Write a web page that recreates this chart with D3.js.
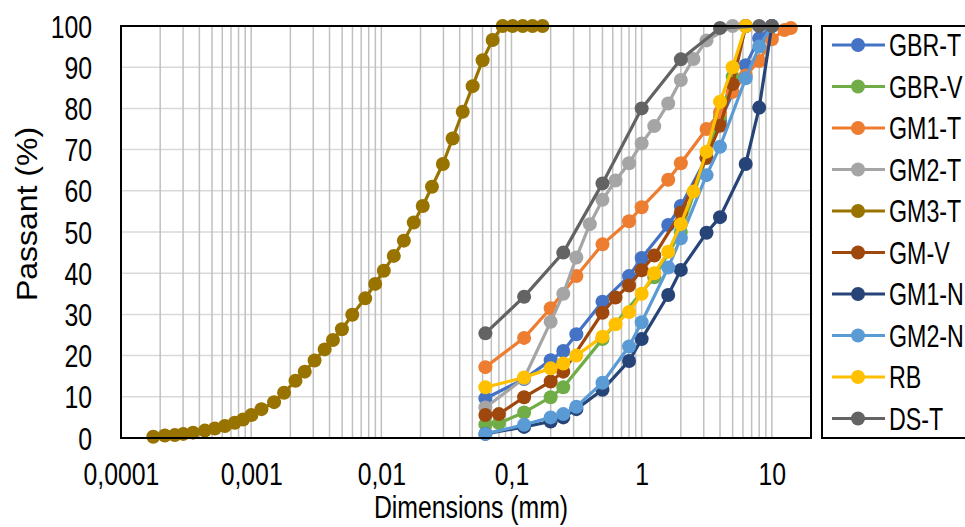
<!DOCTYPE html>
<html><head><meta charset="utf-8">
<script src="https://cdn.jsdelivr.net/npm/d3@7"></script>
<style>html,body{margin:0;padding:0;background:#fff;}svg{display:block;}</style>
</head><body>
<svg id="c" width="965" height="527"></svg>
<script>
// ---------- DATA ----------
const seriesNames = ["GBR-T","GBR-V","GM1-T","GM2-T","GM3-T","GM-V","GM1-N","GM2-N","RB","DS-T"];
const seriesColors = ["#4472C4","#70AD47","#ED7D31","#A5A5A5","#997300","#9E480E","#264478","#5B9BD5","#FFC000","#636363"];

const gbrT_x = [0.063,0.125,0.2,0.25,0.315,0.5,0.8,1,1.6,2,3.15,4,6.3,8,10];
const gbrT_y = [9.6,14.3,18.9,21.1,25.2,33.1,39.3,43.7,51.7,56.3,68,77,90.5,97,100];

const gbrV_x = [0.063,0.08,0.125,0.2,0.25,0.5,1.25,2,4,5,6.3];
const gbrV_y = [3.3,3.6,6.2,9.9,12.3,24,39,50,78,87.7,100];

const gm1T_x = [0.063,0.125,0.2,0.315,0.5,0.8,1,1.6,2,3.15,4,5,6.3,8,10,12.5,14];
const gm1T_y = [17.2,24.3,31.5,39.3,47.0,52.6,56.0,62.7,66.7,75.0,79,84,88,91.5,96.8,99,99.5];

const gm2T_x = [0.063,0.125,0.2,0.25,0.315,0.4,0.5,0.63,0.8,1,1.25,1.6,2,2.5,3.15,5];
const gm2T_y = [7.4,14.5,28.2,35,43.8,51.9,57.8,62.5,66.7,71.5,75.7,81.2,86.9,92,96.5,100];

const gm3T_x = [0.000177,0.000217,0.000259,0.000301,0.000358,0.000441,0.000526,0.000628,0.000748,0.000867,
  0.001005,0.0012,0.0015,0.00179,0.00219,0.00258,0.00307,0.00367,0.00425,0.00498,
  0.00598,0.00752,0.00897,0.01045,0.01247,0.0149,0.01775,0.0208,0.0245,0.0297,
  0.0353,0.0422,0.0503,0.06,0.0716,0.0855,0.102,0.122,0.145,0.173];
const gm3T_y = [0.3,0.6,0.7,1.0,1.3,1.8,2.3,2.9,3.7,4.5,
  5.6,7.0,8.7,11.0,13.9,16.1,18.8,21.5,23.8,26.4,
  29.9,33.9,37.4,40.6,44.2,47.9,52.3,56.3,61.0,66.5,
  72.7,79.2,85.4,91.7,96.6,100,100,100,100,100];

const gmV_x = [0.063,0.08,0.125,0.2,0.25,0.5,0.63,0.8,1,1.25,2,3.15,4,5,6.3];
const gmV_y = [5.6,5.8,9.9,13.7,16.1,30.4,34.1,37.0,40.7,44.3,54.7,68,75.8,85.9,100];

const gm1N_x = [0.063,0.125,0.2,0.25,0.315,0.5,0.8,1,1.6,2,3.15,4,6.3,8,10];
const gm1N_y = [1.0,2.7,4.0,5.0,7.0,11.7,18.7,24.0,34.7,40.8,49.8,53.6,66.5,80.2,100];

const gm2N_x = [0.063,0.125,0.2,0.25,0.315,0.5,0.8,1,1.6,2,3.15,4,6.3,8,10];
const gm2N_y = [1.0,3.2,5.0,5.8,7.6,13.4,22.2,28.1,41.4,48.5,63.8,70.7,87.3,95,100];

const rb_x = [0.063,0.125,0.2,0.25,0.315,0.5,0.63,0.8,1,1.25,1.6,2,2.5,3.15,4,5,6.3];
const rb_y = [12.3,14.7,16.9,18.1,20.0,24.6,27.6,30.6,35.0,40,45.2,51.9,59.8,69.5,81.6,90,100];

const dsT_x = [0.063,0.125,0.25,0.5,1,2,4,8,10];
const dsT_y = [25.4,34.3,45.0,61.8,80.0,91.9,99.5,100,100];

const seriesX = [gbrT_x,gbrV_x,gm1T_x,gm2T_x,gm3T_x,gmV_x,gm1N_x,gm2N_x,rb_x,dsT_x];
const seriesY = [gbrT_y,gbrV_y,gm1T_y,gm2T_y,gm3T_y,gmV_y,gm1N_y,gm2N_y,rb_y,dsT_y];

const xTicks = [0.0001,0.001,0.01,0.1,1,10];
const xTickLabels = ["0,0001","0,001","0,01","0,1","1","10"];
const yTicks = [0,10,20,30,40,50,60,70,80,90,100];
const xTitle = "Dimensions (mm)";
const yTitle = "Passant (%)";

// ---------- LAYOUT ----------
const L = 121, R = 811, T = 26, B = 438;
const SX = 0.8;
const FONT = "'Liberation Sans', Arial, sans-serif";
const FS = 31;

const svg = d3.select("#c");
const x = d3.scaleLog().domain([0.0001, 20]).range([L, R]);
const y = d3.scaleLinear().domain([0, 100]).range([B, T]);

// grid
const vg = [];
for (let k = -4; k <= 1; k++) for (let m = 1; m <= 9; m++) { const v = m * Math.pow(10, k); if (v <= 20) vg.push(v); }
svg.append("g").selectAll("line").data(yTicks).join("line")
  .attr("x1", L).attr("x2", R).attr("y1", d => y(d)).attr("y2", d => y(d))
  .attr("stroke", "#d9d9d9").attr("stroke-width", 1.5);
svg.append("g").selectAll("line").data(vg).join("line")
  .attr("x1", d => x(d)).attr("x2", d => x(d)).attr("y1", T).attr("y2", B)
  .attr("stroke", "#c0c0c0").attr("stroke-width", 1.5);

// series
const line = d3.line().x(d => x(d[0])).y(d => y(d[1]));
seriesNames.forEach((n, i) => {
  const pts = seriesX[i].map((v, j) => [v, seriesY[i][j]]);
  const g = svg.append("g");
  g.append("path").datum(pts).attr("d", line).attr("fill", "none")
    .attr("stroke", seriesColors[i]).attr("stroke-width", 3.2).attr("stroke-linejoin", "round");
  g.selectAll("circle").data(pts).join("circle")
    .attr("cx", d => x(d[0])).attr("cy", d => y(d[1])).attr("r", 7)
    .attr("fill", seriesColors[i]);
});

// frame
svg.append("rect").attr("x", L).attr("y", T).attr("width", R - L).attr("height", B - T)
  .attr("fill", "none").attr("stroke", "#000").attr("stroke-width", 2);

// axes
const xa = svg.append("g").attr("transform", `translate(0,${B})`)
  .call(d3.axisBottom(x).tickValues(xTicks).tickFormat((d, i) => xTickLabels[i]).tickSize(0));
xa.select(".domain").remove();
xa.selectAll("text").attr("y", 0).attr("dy", null)
  .attr("transform", `translate(0,47) scale(${SX},1)`)
  .style("font-family", FONT).style("font-size", FS + "px").attr("fill", "#000");

const ya = svg.append("g").attr("transform", `translate(${L},0)`)
  .call(d3.axisLeft(y).tickValues(yTicks).tickSize(0));
ya.select(".domain").remove();
ya.selectAll("text").attr("x", 0).attr("dy", null)
  .attr("transform", `translate(-29,11) scale(${SX},1)`)
  .style("font-family", FONT).style("font-size", FS + "px").attr("fill", "#000");

// titles
svg.append("text").text(xTitle)
  .attr("transform", `translate(471,518) scale(${SX},1)`)
  .attr("text-anchor", "middle").style("font-family", FONT).style("font-size", "31px");
svg.append("text").text(yTitle)
  .attr("transform", `translate(37,214) scale(0.92,1) rotate(-90)`)
  .attr("text-anchor", "middle").style("font-family", FONT).style("font-size", "32px");

// legend
svg.append("rect").attr("x", 822).attr("y", 26).attr("width", 160).attr("height", 412)
  .attr("fill", "#fff").attr("stroke", "#000").attr("stroke-width", 2);
seriesNames.forEach((n, i) => {
  const ly = 45 + i * 41.5;
  svg.append("line").attr("x1", 832).attr("x2", 885).attr("y1", ly).attr("y2", ly)
    .attr("stroke", seriesColors[i]).attr("stroke-width", 3.2);
  svg.append("circle").attr("cx", 858).attr("cy", ly).attr("r", 7).attr("fill", seriesColors[i]);
  svg.append("text").text(n).attr("transform", `translate(889,${ly + 11}) scale(0.75,1)`)
    .style("font-family", FONT).style("font-size", FS + "px").attr("fill", "#000");
});
</script>
</body></html>
